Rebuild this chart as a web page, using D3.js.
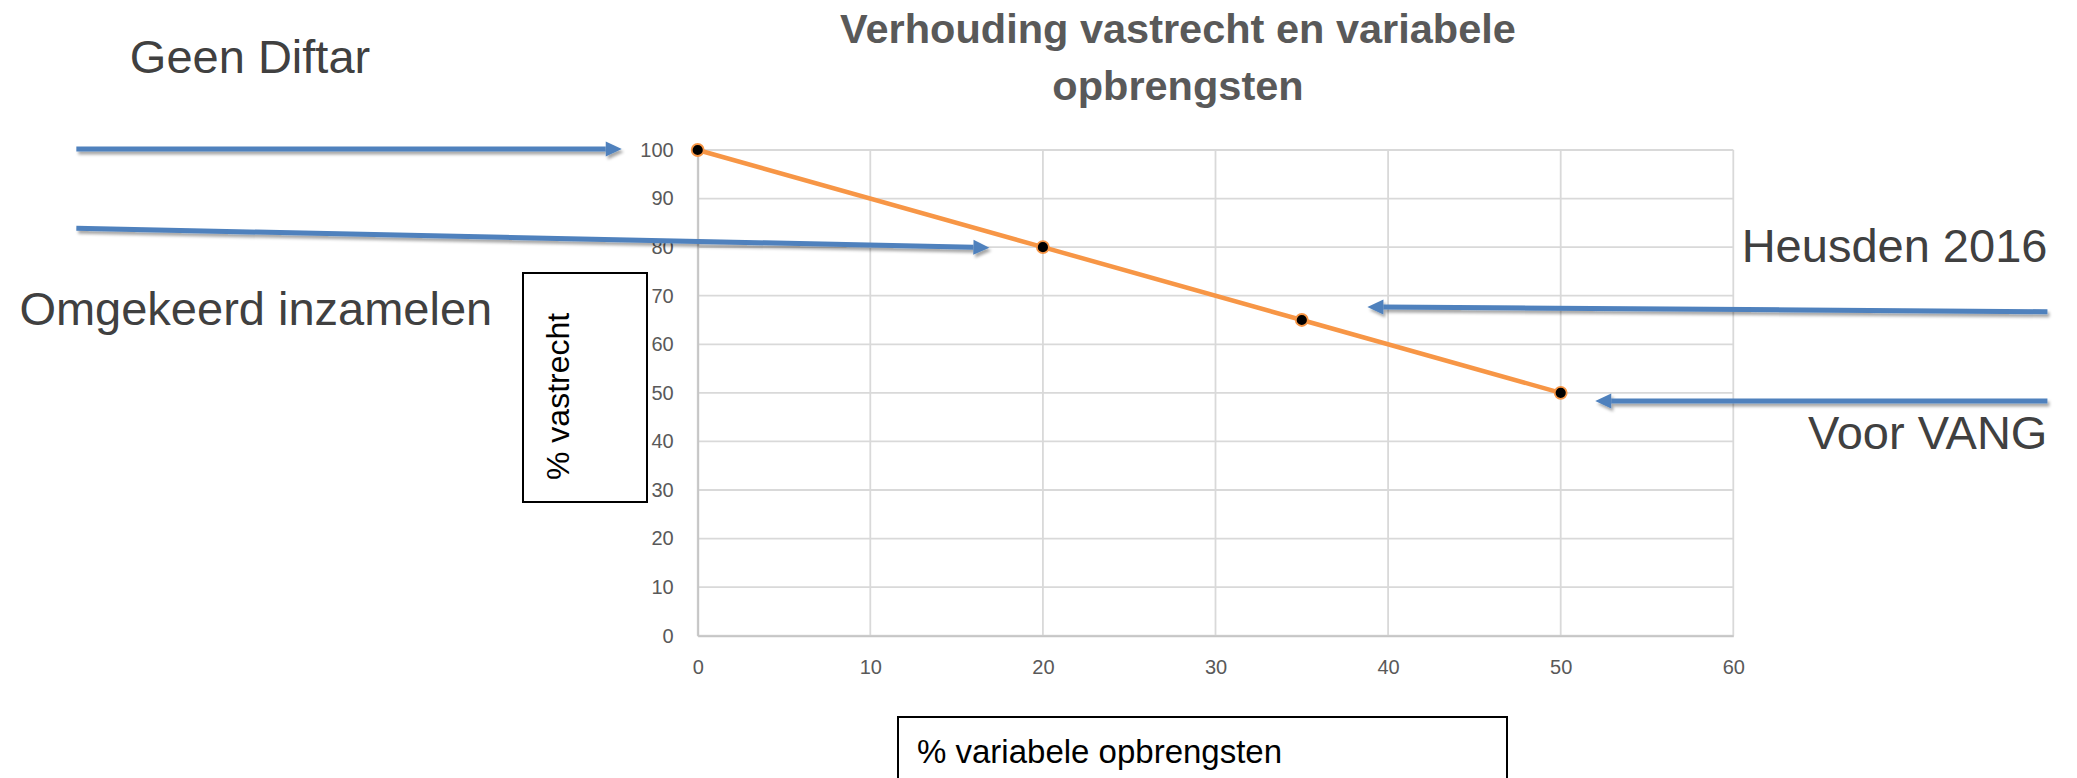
<!DOCTYPE html>
<html>
<head>
<meta charset="utf-8">
<script src="https://cdn.jsdelivr.net/npm/d3@7"></script>
<style>
  html, body { margin: 0; padding: 0; background: #ffffff; }
  svg { display: block; }
</style>
</head>
<body>
<svg id="chart" width="2077" height="778"></svg>
<script>
// ---- data ----
const titleLines = ["Verhouding vastrecht en variabele", "opbrengsten"];
const variabel = [0, 20, 35, 50];        // % variabele opbrengsten
const vastrecht = [100, 80, 65, 50];     // % vastrecht
const xTicks = [0, 10, 20, 30, 40, 50, 60];
const yTicks = [0, 10, 20, 30, 40, 50, 60, 70, 80, 90, 100];
const xTitle = "% variabele opbrengsten";
const yTitle = "% vastrecht";
const annotationLabels = ["Geen Diftar", "Omgekeerd inzamelen", "Heusden 2016", "Voor VANG"];
// arrow start / tip, in data units of the chart
const arrowFromX = [-36.0, -36.0, 78.2, 78.2];
const arrowFromY = [100.2, 83.9, 66.7, 48.3];
const arrowToX = [-4.4, 16.9, 38.8, 52.0];
const arrowToY = [100.2, 79.9, 67.7, 48.3];

// ---- layout ----
const svg = d3.select("#chart");
const x = d3.scaleLinear().domain([0, 60]).range([697.7, 1733.3]);
const y = d3.scaleLinear().domain([0, 100]).range([635.7, 150]);

const defs = svg.append("defs");
const shadow = defs.append("filter").attr("id", "shadow")
  .attr("x", "-5%").attr("y", "-100%").attr("width", "110%").attr("height", "400%");
shadow.append("feDropShadow").attr("dx", 2).attr("dy", 3).attr("stdDeviation", 1.8)
  .attr("flood-color", "#000").attr("flood-opacity", 0.35);

// title
svg.append("text")
  .attr("x", 1178).attr("y", 43)
  .attr("text-anchor", "middle")
  .attr("font-family", "Liberation Sans, Arial, sans-serif")
  .attr("font-weight", "bold").attr("font-size", 41.5)
  .attr("fill", "#595959")
  .selectAll("tspan").data(titleLines).join("tspan")
  .attr("x", 1178).attr("dy", (d, i) => i === 0 ? 0 : 57)
  .text(d => d);

// gridlines
const grid = svg.append("g");
grid.selectAll("line.h").data(yTicks).join("line")
  .attr("class", "h")
  .attr("x1", x(0)).attr("x2", x(60))
  .attr("y1", d => y(d)).attr("y2", d => y(d))
  .attr("stroke", "#d9d9d9").attr("stroke-width", 1.8);
grid.selectAll("line.v").data(xTicks).join("line")
  .attr("class", "v")
  .attr("y1", y(0)).attr("y2", y(100))
  .attr("x1", d => x(d)).attr("x2", d => x(d))
  .attr("stroke", "#d9d9d9").attr("stroke-width", 1.8);

// axes
const xAxis = svg.append("g").attr("transform", `translate(0,${y(0)})`)
  .call(d3.axisBottom(x).tickValues(xTicks).tickSize(0).tickPadding(24));
const yAxis = svg.append("g").attr("transform", `translate(${x(0)},0)`)
  .call(d3.axisLeft(y).tickValues(yTicks).tickSize(0).tickPadding(24));
[xAxis, yAxis].forEach(a => {
  a.select(".domain").attr("stroke", "#c6c6c6").attr("stroke-width", 2);
  a.selectAll("text")
    .attr("font-family", "Liberation Sans, Arial, sans-serif")
    .attr("font-size", 20).attr("fill", "#595959");
});

// series line
const pts = variabel.map((v, i) => [v, vastrecht[i]]);
svg.append("path")
  .datum(pts)
  .attr("d", d3.line().x(d => x(d[0])).y(d => y(d[1])))
  .attr("fill", "none").attr("stroke", "#F79646").attr("stroke-width", 4.5)
  .attr("stroke-linejoin", "round");
svg.selectAll("circle.pt").data(pts).join("circle")
  .attr("class", "pt")
  .attr("cx", d => x(d[0])).attr("cy", d => y(d[1]))
  .attr("r", 6)
  .attr("fill", "#000").attr("stroke", "#F79646").attr("stroke-width", 1.8);

// axis title boxes
svg.append("rect").attr("x", 523).attr("y", 273).attr("width", 124).attr("height", 229)
  .attr("fill", "#fff").attr("stroke", "#000").attr("stroke-width", 2);
svg.append("text")
  .attr("transform", "translate(569,480) rotate(-90)")
  .attr("font-family", "Liberation Sans, Arial, sans-serif")
  .attr("font-size", 32).attr("fill", "#000")
  .text(yTitle);

svg.append("rect").attr("x", 898).attr("y", 717).attr("width", 609).attr("height", 80)
  .attr("fill", "#fff").attr("stroke", "#000").attr("stroke-width", 2);
svg.append("text")
  .attr("x", 917).attr("y", 763)
  .attr("font-family", "Liberation Sans, Arial, sans-serif")
  .attr("font-size", 33).attr("fill", "#000")
  .text(xTitle);

// annotation arrows
const arrows = svg.append("g").attr("filter", "url(#shadow)");
annotationLabels.forEach((lab, i) => {
  const x1 = x(arrowFromX[i]), y1 = y(arrowFromY[i]);
  const x2 = x(arrowToX[i]), y2 = y(arrowToY[i]);
  const ang = Math.atan2(y2 - y1, x2 - x1);
  const L = 16, W = 7.5;
  const bx = x2 - L * Math.cos(ang), by = y2 - L * Math.sin(ang);
  arrows.append("line")
    .attr("x1", x1).attr("y1", y1).attr("x2", bx).attr("y2", by)
    .attr("stroke", "#4F81BD").attr("stroke-width", 5);
  arrows.append("path")
    .attr("d", `M${x2},${y2} L${bx - W * Math.sin(ang)},${by + W * Math.cos(ang)} L${bx + W * Math.sin(ang)},${by - W * Math.cos(ang)} Z`)
    .attr("fill", "#4F81BD");
});

// annotation labels
const labelX = [-32.9, -39.3, 78.2, 78.2];
const labelY = [115.8, 64.0, 77.0, 38.5];
const labelAnchor = ["start", "start", "end", "end"];
svg.selectAll("text.ann").data(annotationLabels).join("text")
  .attr("class", "ann")
  .attr("x", (d, i) => x(labelX[i]))
  .attr("y", (d, i) => y(labelY[i]))
  .attr("text-anchor", (d, i) => labelAnchor[i])
  .attr("font-family", "Liberation Sans, Arial, sans-serif")
  .attr("font-size", 47).attr("fill", "#404040")
  .text(d => d);
</script>
</body>
</html>
